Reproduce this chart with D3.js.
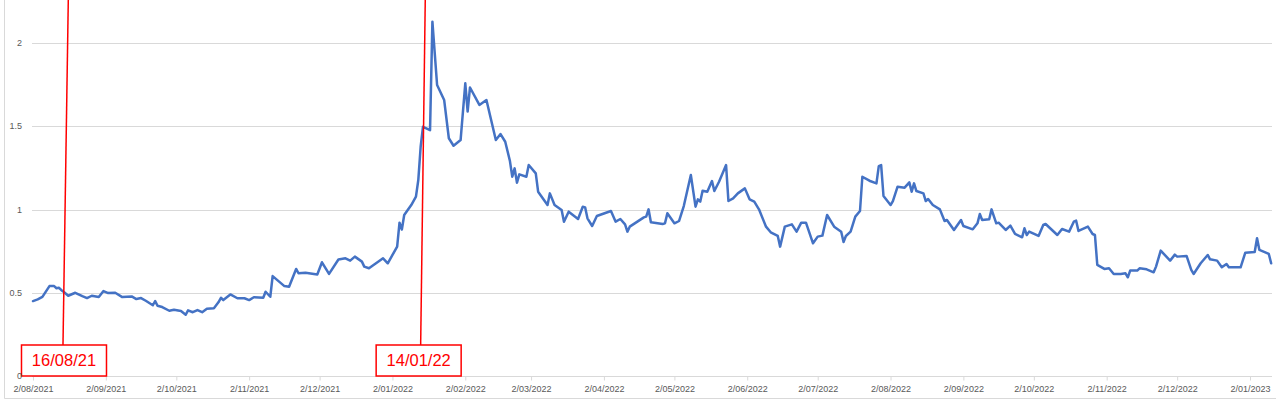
<!DOCTYPE html>
<html>
<head>
<meta charset="utf-8">
<script src="https://cdn.jsdelivr.net/npm/d3@7"></script>
<style>
  html, body { margin: 0; padding: 0; background: #fff; }
  svg { display: block; }
  text { font-family: "Liberation Sans", Arial, sans-serif; }
</style>
</head>
<body>
<div id="chart"></div>
<script>
// ---- data ----
const dates = [
"2021-08-02","2021-08-04","2021-08-06","2021-08-09","2021-08-11","2021-08-12","2021-08-13","2021-08-14","2021-08-15","2021-08-17",
"2021-08-20","2021-08-23","2021-08-25","2021-08-27","2021-08-30","2021-09-01","2021-09-03","2021-09-06","2021-09-09","2021-09-13",
"2021-09-15","2021-09-17","2021-09-19","2021-09-22","2021-09-23","2021-09-24","2021-09-26","2021-09-29","2021-10-01","2021-10-04",
"2021-10-06","2021-10-07","2021-10-09","2021-10-11","2021-10-13","2021-10-15","2021-10-18","2021-10-20","2021-10-21","2021-10-22",
"2021-10-25","2021-10-28","2021-10-31","2021-11-02","2021-11-04","2021-11-08","2021-11-09","2021-11-11","2021-11-12","2021-11-17",
"2021-11-19","2021-11-22","2021-11-23","2021-11-26","2021-12-01","2021-12-03","2021-12-06","2021-12-10","2021-12-13","2021-12-15",
"2021-12-17","2021-12-20","2021-12-21","2021-12-23","2021-12-29","2021-12-31","2022-01-04","2022-01-05","2022-01-06","2022-01-07",
"2022-01-10","2022-01-12","2022-01-13","2022-01-14","2022-01-15","2022-01-18","2022-01-19","2022-01-21","2022-01-24","2022-01-26",
"2022-01-28","2022-01-31","2022-02-02","2022-02-03","2022-02-04","2022-02-08","2022-02-11","2022-02-15","2022-02-17","2022-02-19",
"2022-02-21","2022-02-22","2022-02-23","2022-02-24","2022-02-25","2022-02-28","2022-03-01","2022-03-04","2022-03-05","2022-03-09",
"2022-03-10","2022-03-12","2022-03-15","2022-03-16","2022-03-18","2022-03-22","2022-03-24","2022-03-25","2022-03-26","2022-03-28",
"2022-03-30","2022-04-05","2022-04-07","2022-04-09","2022-04-11","2022-04-12","2022-04-13","2022-04-19","2022-04-20","2022-04-21",
"2022-04-22","2022-04-27","2022-04-28","2022-04-29","2022-05-02","2022-05-04","2022-05-06","2022-05-09","2022-05-11","2022-05-12",
"2022-05-13","2022-05-14","2022-05-16","2022-05-18","2022-05-19","2022-05-21","2022-05-24","2022-05-25","2022-05-27","2022-05-29",
"2022-06-01","2022-06-03","2022-06-05","2022-06-07","2022-06-10","2022-06-12","2022-06-15","2022-06-16","2022-06-18","2022-06-21",
"2022-06-23","2022-06-25","2022-06-27","2022-06-30","2022-07-02","2022-07-04","2022-07-06","2022-07-09","2022-07-12","2022-07-13",
"2022-07-14","2022-07-16","2022-07-18","2022-07-20","2022-07-21","2022-07-24","2022-07-27","2022-07-28","2022-07-29","2022-07-30",
"2022-08-02","2022-08-03","2022-08-05","2022-08-08","2022-08-10","2022-08-11","2022-08-12","2022-08-13","2022-08-16","2022-08-17",
"2022-08-18","2022-08-20","2022-08-23","2022-08-25","2022-08-26","2022-08-29","2022-09-01","2022-09-02","2022-09-06","2022-09-08",
"2022-09-09","2022-09-10","2022-09-13","2022-09-14","2022-09-16","2022-09-17","2022-09-20","2022-09-22","2022-09-24","2022-09-27",
"2022-09-28","2022-09-29","2022-09-30","2022-10-04","2022-10-06","2022-10-07","2022-10-12","2022-10-14","2022-10-17","2022-10-19",
"2022-10-20","2022-10-21","2022-10-25","2022-10-27","2022-10-28","2022-10-29","2022-11-01","2022-11-03","2022-11-05","2022-11-08",
"2022-11-10","2022-11-11","2022-11-12","2022-11-15","2022-11-16","2022-11-19","2022-11-22","2022-11-23","2022-11-25","2022-11-29",
"2022-12-01","2022-12-02","2022-12-06","2022-12-08","2022-12-09","2022-12-12","2022-12-15","2022-12-16","2022-12-19","2022-12-21",
"2022-12-23","2022-12-24","2022-12-29","2022-12-31","2023-01-04","2023-01-05","2023-01-06","2023-01-10","2023-01-11"
];
const values = [
0.45,0.46,0.475,0.54,0.54,0.527,0.53,0.517,0.506,0.482,
0.50,0.48,0.468,0.482,0.474,0.51,0.498,0.50,0.474,0.478,
0.462,0.468,0.452,0.425,0.45,0.422,0.414,0.392,0.398,0.39,
0.368,0.394,0.383,0.396,0.383,0.404,0.407,0.444,0.47,0.456,
0.49,0.467,0.467,0.456,0.473,0.47,0.506,0.476,0.60,0.54,
0.536,0.643,0.617,0.62,0.61,0.683,0.613,0.70,0.707,0.693,
0.717,0.687,0.657,0.647,0.707,0.677,0.777,0.921,0.88,0.967,
1.027,1.077,1.177,1.377,1.497,1.477,2.128,1.748,1.658,1.428,
1.383,1.417,1.758,1.588,1.733,1.628,1.658,1.417,1.453,1.407,
1.291,1.197,1.247,1.161,1.211,1.197,1.267,1.217,1.107,1.027,
1.097,1.027,0.997,0.927,0.987,0.943,1.017,1.013,0.947,0.901,
0.961,0.991,0.927,0.943,0.911,0.867,0.897,0.953,0.957,1.001,
0.923,0.913,0.917,0.977,0.917,0.931,1.021,1.207,1.017,1.061,
1.047,1.113,1.107,1.171,1.111,1.167,1.267,1.051,1.067,1.097,
1.127,1.061,1.047,1.001,0.897,0.863,0.841,0.777,0.897,0.911,
0.867,0.921,0.921,0.797,0.837,0.843,0.967,0.897,0.867,0.805,
0.841,0.867,0.957,0.991,1.197,1.173,1.157,1.261,1.267,1.081,
1.027,1.051,1.137,1.131,1.163,1.107,1.157,1.111,1.097,1.051,
1.063,1.027,1.001,0.931,0.937,0.877,0.937,0.901,0.881,0.917,
0.973,0.937,0.941,1.001,0.917,0.921,0.877,0.903,0.853,0.833,
0.887,0.847,0.867,0.841,0.907,0.913,0.847,0.883,0.867,0.927,
0.933,0.871,0.897,0.853,0.847,0.667,0.643,0.647,0.613,0.613,
0.617,0.593,0.633,0.633,0.647,0.641,0.623,0.657,0.753,0.693,
0.729,0.717,0.721,0.637,0.613,0.677,0.727,0.701,0.693,0.653,
0.673,0.653,0.653,0.741,0.745,0.827,0.757,0.733,0.677
];
const yTicks = [0, 0.5, 1, 1.5, 2];
const xTickStart = "2021-08-02";
const xTickEnd = "2023-01-02";
const annotationDates = ["2021-08-16", "2022-01-14"];
const annotationLabels = ["16/08/21", "14/01/22"];

// ---- layout ----
const W = 1276, H = 402;
const parse = d3.timeParse("%Y-%m-%d");
const data = dates.map((d, i) => ({ date: parse(d), value: values[i] }));

const svg = d3.select("#chart").append("svg").attr("width", W).attr("height", H);

// outer faint chart frame
svg.append("path")
  .attr("d", "M4.5,-2 V398.5 H1280")
  .attr("fill", "none").attr("stroke", "#d9d9d9").attr("stroke-width", 1);

const x = d3.scaleTime()
  .domain([parse(xTickStart), parse(xTickEnd)])
  .range([33, 1250]);
const y = d3.scaleLinear().domain([0, 2.25]).range([376, 1.4]);

const plotLeft = 32, plotRight = 1272;

// gridlines
svg.append("g").selectAll("line")
  .data(yTicks.filter(t => t > 0))
  .join("line")
  .attr("x1", plotLeft).attr("x2", plotRight)
  .attr("y1", d => Math.round(y(d)) + 0.5).attr("y2", d => Math.round(y(d)) + 0.5)
  .attr("stroke", "#d9d9d9").attr("stroke-width", 1);

// x axis
const monthTicks = d3.timeMonth.range(d3.timeMonth.floor(parse(xTickStart)), d3.timeDay.offset(parse(xTickEnd), 1))
  .map(d => d3.timeDay.offset(d, 1));
const xAxis = d3.axisBottom(x)
  .tickValues(monthTicks)
  .tickFormat(d3.timeFormat("%-d/%m/%Y"))
  .tickSize(4).tickSizeOuter(0);
const gx = svg.append("g").attr("transform", "translate(0,376.5)").call(xAxis);
gx.select(".domain").remove();
gx.append("line").attr("x1", plotLeft).attr("x2", plotRight).attr("y1", 0).attr("y2", 0)
  .attr("stroke", "#d9d9d9");
gx.selectAll(".tick line").attr("stroke", "#d9d9d9");
gx.selectAll(".tick text")
  .attr("font-family", "'Liberation Sans', Arial, sans-serif")
  .attr("font-size", 9).attr("fill", "#595959").attr("dy", "0.9em");

// series line
const line = d3.line().x(d => x(d.date)).y(d => y(d.value));
svg.append("path")
  .datum(data)
  .attr("d", line)
  .attr("fill", "none")
  .attr("stroke", "#4472C4")
  .attr("stroke-width", 2.5)
  .attr("stroke-linejoin", "round")
  .attr("stroke-linecap", "round");

// annotations
const slantTop = [2.4, 4.6];
const slantBottom = [-2.9, 0];
const boxTop = 345, boxH = 31, boxW = 85;
const ann = svg.append("g");
annotationDates.forEach((d, i) => {
  const xd = x(parse(d));
  const xb = xd + slantBottom[i];
  ann.append("line")
    .attr("x1", xd + slantTop[i]).attr("y1", 0)
    .attr("x2", xb).attr("y2", boxTop)
    .attr("stroke", "#ff0000").attr("stroke-width", 1.5);
  const cx = xb + (i === 0 ? 1 : -2);
  ann.append("rect")
    .attr("x", cx - boxW / 2).attr("y", boxTop)
    .attr("width", boxW).attr("height", boxH)
    .attr("fill", "#ffffff").attr("stroke", "#ff0000").attr("stroke-width", 1.5);
  ann.append("text")
    .attr("x", cx).attr("y", boxTop + boxH / 2)
    .attr("dy", "0.36em")
    .attr("text-anchor", "middle")
    .attr("font-size", 16.5)
    .attr("fill", "#ff0000")
    .text(annotationLabels[i]);
});

// y labels (drawn last so the "0" shows beside the first box)
svg.append("g").selectAll("text")
  .data(yTicks)
  .join("text")
  .attr("x", 22).attr("y", d => y(d))
  .attr("dy", "0.35em")
  .attr("text-anchor", "end")
  .attr("font-size", 9)
  .attr("fill", "#595959")
  .text(d => d3.format("")(d));
</script>
</body>
</html>
